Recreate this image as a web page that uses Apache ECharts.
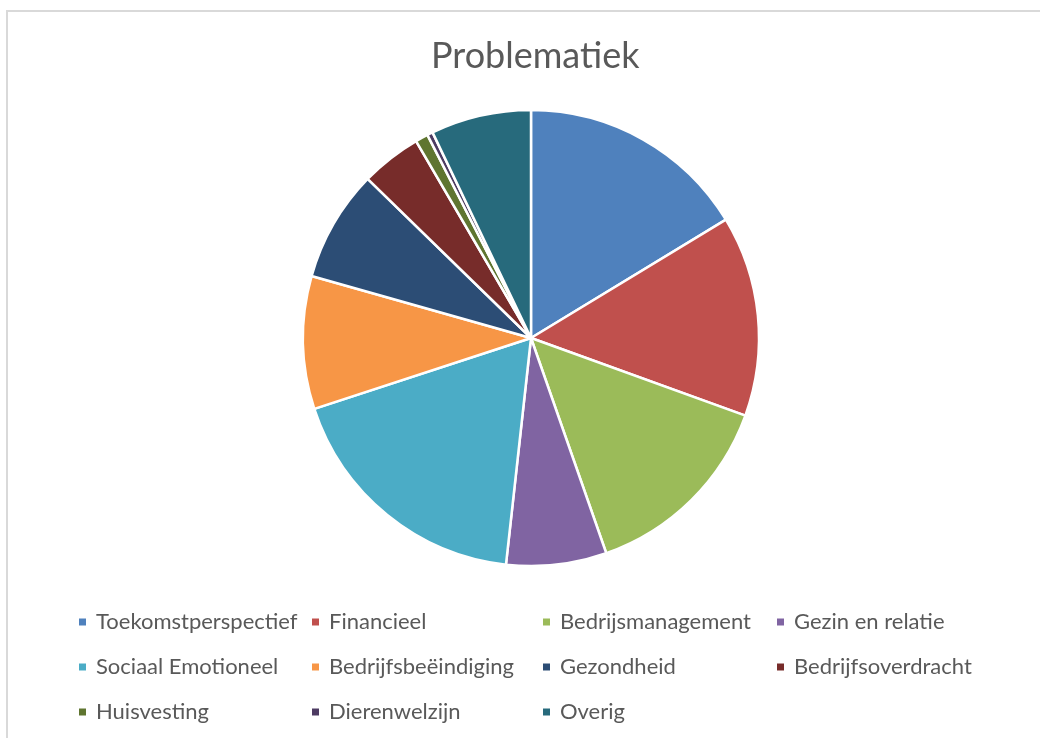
<!DOCTYPE html>
<html>
<head>
<meta charset="utf-8">
<script src="https://cdn.jsdelivr.net/npm/echarts@6/dist/echarts.min.js"></script>
<style>
  html, body { margin: 0; padding: 0; background: #fff; }
  #chart { width: 1040px; height: 738px; }
  .frame {
    position: absolute; left: 6px; top: 10px; width: 1100px; height: 800px;
    border-left: 2px solid #d9d9d9; border-top: 2px solid #d9d9d9;
    pointer-events: none;
  }
</style>
</head>
<body>
<div id="chart"></div>
<div class="frame"></div>
<script>
const categories = [
  'Toekomstperspectief', 'Financieel', 'Bedrijsmanagement', 'Gezin en relatie',
  'Sociaal Emotioneel', 'Bedrijfsbeëindiging', 'Gezondheid', 'Bedrijfsoverdracht',
  'Huisvesting', 'Dierenwelzijn', 'Overig'
];
const values = [16.3, 14.2, 14.1, 7.1, 18.2, 9.4, 7.9, 4.3, 0.9, 0.4, 7.1];
const colors = [
  '#4F81BD', '#C0504D', '#9BBB59', '#8064A2', '#4BACC6', '#F79646',
  '#2C4D75', '#772C2A', '#5F7530', '#4D3B62', '#276A7C'
];

// legend columns, as Excel lays them out
const legendCols = [
  ['Toekomstperspectief', 'Sociaal Emotioneel', 'Huisvesting'],
  ['Financieel', 'Bedrijfsbeëindiging', 'Dierenwelzijn'],
  ['Bedrijsmanagement', 'Gezondheid', 'Overig'],
  ['Gezin en relatie', 'Bedrijfsoverdracht']
];
const legendLeft = [72, 305, 536, 770];

const font = 'Lato, "Open Sans", sans-serif';

const chart = echarts.init(document.getElementById('chart'));

chart.setOption({
  animation: false,
  color: colors,
  title: {
    text: 'Problematiek',
    left: 426,
    top: 33,
    textStyle: { fontFamily: font, fontSize: 36, fontWeight: 'normal', color: '#595959' }
  },
  legend: legendCols.map((col, i) => ({
    data: col,
    orient: 'vertical',
    left: legendLeft[i],
    top: 606,
    itemWidth: 9,
    itemHeight: 9,
    itemGap: 23,
    icon: 'rect',
    selectedMode: false,
    textStyle: { fontFamily: font, fontSize: 22, color: '#595959', padding: [0, 0, 0, 4] }
  })),
  series: [{
    type: 'pie',
    center: [531, 338],
    radius: [0, 228],
    startAngle: 90,
    clockwise: true,
    label: { show: false },
    labelLine: { show: false },
    itemStyle: { borderColor: '#fff', borderWidth: 2.5 },
    data: categories.map((name, i) => ({ name, value: values[i] }))
  }]
});
</script>
</body>
</html>
